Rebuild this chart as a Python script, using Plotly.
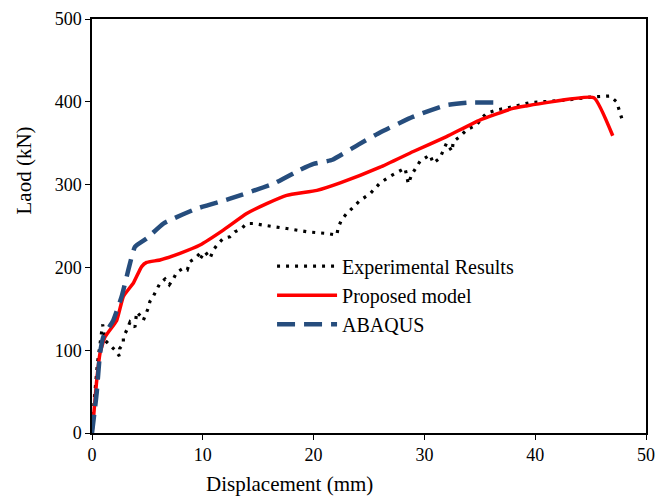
import plotly.graph_objects as go

# Experimental results (dotted)
exp_x = [0, 0.2, 0.5, 0.87, 0.96, 1.17, 1.62, 2.08, 2.47, 2.5, 2.83, 2.83, 3.13, 3.43, 3.88, 4.03, 4.48, 4.63,
         5.08, 5.23, 5.53, 5.84, 6.14, 6.59, 6.98, 7.34, 7.64, 8.24, 8.6, 8.84, 9.3, 9.75, 9.8, 10.2, 10.65,
         10.95, 11.4, 11.85, 12.45, 12.9, 13.5, 13.96, 14.56, 15.46, 16.67, 17.57, 19.4, 21.2, 22.1, 22.2,
         22.5, 22.98, 23.6, 24.2, 25.1, 26.0, 26.9, 27.8, 28.25, 28.55, 28.85, 29.6, 30.5, 30.8, 31.4, 32.0,
         32.5, 32.6, 33.2, 33.8, 34.7, 35.3, 35.6, 36.5, 38.0, 39.5, 41.0, 42.8, 45.2, 46.75, 47.35, 47.65, 47.95]
exp_y = [0, 40, 85, 120, 131, 112, 106, 100, 93, 102, 108, 116, 124, 134, 128, 146, 140, 136,
         151, 159, 165, 173, 181, 186, 179, 186, 194, 199, 197, 207, 211, 217, 211, 219, 211,
         221, 229, 235, 237, 243, 247, 253, 253, 251, 249, 247, 243, 241, 239, 247,
         257, 265, 273, 281, 289, 302, 310, 316, 320, 301, 312, 328, 336, 326, 332, 350,
         340, 352, 358, 366, 372, 382, 386, 390, 394, 399, 400, 402, 406, 407, 400, 386, 374]

# Proposed model (solid red)
prop_x = [0, 0.12, 0.4, 0.72, 1.17, 2.23, 2.83, 3.73, 4.48, 4.93, 6.14, 7.94, 9.75, 11.85, 13.96, 15.77,
          17.57, 20.3, 22.4, 26.0, 29.0, 32.0, 35.0, 38.0, 39.2, 41.0, 45.3, 47.0]
prop_y = [0, 16, 60, 96, 116, 136, 165, 181, 201, 206, 209, 217, 227, 245, 265, 277,
          287, 293, 302, 321, 340, 358, 378, 392, 395, 399, 405, 359]

# ABAQUS (dashed blue)
abq_x = [0, 0.42, 0.72, 1.02, 1.92, 2.68, 3.28, 3.88, 4.94, 6.44, 9.45, 12.45, 16.37, 18.8, 20.0,
         21.7, 24.0, 26.0, 29.0, 32.0, 34.0, 36.3]
abq_y = [0, 48, 96, 116, 136, 165, 197, 225, 235, 253, 271, 283, 301, 318, 325,
         330, 348, 363, 382, 396, 399, 399]

x_ticks = [0, 10, 20, 30, 40, 50]
y_ticks = [0, 100, 200, 300, 400, 500]

font = "Liberation Serif, Times New Roman, serif"

fig = go.Figure()
fig.add_trace(go.Scatter(x=exp_x, y=exp_y, mode="lines", name="Experimental Results",
                         line=dict(color="black", width=3.2, dash="3px,6px")))
fig.add_trace(go.Scatter(x=prop_x, y=prop_y, mode="lines", name="Proposed model",
                         line=dict(color="#FF0000", width=3.5, shape="spline", smoothing=0.4)))
fig.add_trace(go.Scatter(x=abq_x, y=abq_y, mode="lines", name="ABAQUS",
                         line=dict(color="#264D7D", width=4.5, dash="18px,9px", shape="spline", smoothing=0.4)))

fig.update_layout(
    width=655, height=496,
    margin=dict(l=92, r=9, t=19, b=63),
    paper_bgcolor="white", plot_bgcolor="white",
    font=dict(family=font, size=18, color="black"),
    showlegend=True,
    legend=dict(x=0.325, y=0.45, xanchor="left", yanchor="top", bgcolor="rgba(0,0,0,0)",
                font=dict(family=font, size=20, color="black"), tracegroupgap=0, itemwidth=60),
    annotations=[
        dict(text="Displacement (mm)", xref="paper", yref="paper", x=0.357, y=-0.124,
             xanchor="center", yanchor="middle", showarrow=False,
             font=dict(family=font, size=21, color="black")),
        dict(text="Laod (kN)", xref="paper", yref="paper", x=-0.1236, y=0.633, textangle=-90,
             xanchor="center", yanchor="middle", showarrow=False,
             font=dict(family=font, size=21, color="black")),
    ],
)
fig.update_xaxes(range=[0, 50], tickvals=x_ticks, showgrid=False, zeroline=False, automargin=False,
                 showline=True, linecolor="black", linewidth=1.5, mirror=True,
                 ticks="outside", ticklen=5, tickcolor="black")
fig.update_yaxes(range=[0, 500], tickvals=y_ticks, showgrid=False, zeroline=False, automargin=False,
                 showline=True, linecolor="black", linewidth=1.5, mirror=True,
                 ticks="outside", ticklen=5, tickcolor="black")

fig.write_html("out.html")
